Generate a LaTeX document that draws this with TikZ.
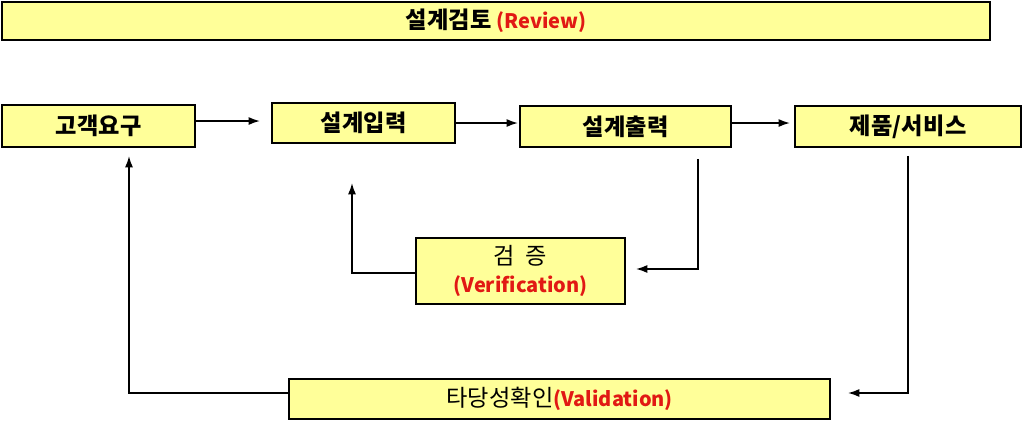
\documentclass[tikz,border=0pt]{standalone}
\usepackage{fontspec}
\setmainfont{Noto Sans CJK KR}
\newfontfamily\krfont[LetterSpace=1,Scale=1.16]{Noto Sans CJK KR}
\usetikzlibrary{arrows.meta, calc, positioning}
\definecolor{boxyellow}{RGB}{255,255,153}
\definecolor{txtred}{RGB}{225,25,20}

\begin{document}
\begin{tikzpicture}[x=0.75pt, y=-0.75pt,
  stepnode/.style={rectangle, draw=black, fill=boxyellow, line width=1.4pt, inner sep=0pt, font=\fontsize{15}{21}\selectfont},
  flow/.style={line width=1.3pt, -{Latex[length=8.5pt, width=6pt]}}]
\useasboundingbox (0,0) rectangle (1024,426);
\node[stepnode, minimum width=741pt, minimum height=28.5pt] at (496,21) (review) {\bfseries{\krfont 설계검토} \textcolor{txtred}{(Review)}};
\node[stepnode, minimum width=144.75pt, minimum height=31.5pt] at (98.5,126) (cust) {\bfseries\krfont 고객요구};
\node[stepnode, minimum width=137.25pt, minimum height=30pt] at (363.5,123) (din) {\bfseries\krfont 설계입력};
\node[stepnode, minimum width=158.25pt, minimum height=30.75pt] at (625.5,126.5) (dout) {\bfseries\krfont 설계출력};
\node[stepnode, minimum width=169.5pt, minimum height=30.75pt] at (908,126.5) (prod) {\bfseries\krfont 제품/서비스};
\node[stepnode, minimum width=156.75pt, minimum height=49.5pt, align=center] at (520.5,271) (verif) {{\krfont 검\ \ 증}\\\textcolor{txtred}{\bfseries(Verification)}};
\node[stepnode, minimum width=405.75pt, minimum height=30pt] at (559.5,399) (valid) {{\krfont 타당성확인}\textcolor{txtred}{\bfseries(Validation)}};

\coordinate (t1) at (260,121);
\draw[flow] (cust.east |- t1) -- (t1);
\coordinate (t2) at (518,123);
\draw[flow] (din.east |- t2) -- (t2);
\coordinate (t3) at (790,123);
\draw[flow] (dout.east |- t3) -- (t3);
\coordinate (c4) at (698,269);
\draw[flow] ([yshift=-8.25pt]dout.south -| c4) -- (c4) -- ([xshift=7.5pt]verif.east |- c4);
\coordinate (c5) at (352,273);
\draw[flow] (verif.west |- c5) -- (c5) -- ([yshift=-29.25pt]din.south -| c5);
\coordinate (c6) at (908,393);
\draw[flow] ([yshift=-6pt]prod.south -| c6) -- (c6) -- ([xshift=12.75pt]valid.east |- c6);
\coordinate (c7) at (129,393);
\draw[flow] (valid.west |- c7) -- (c7) -- ([yshift=-6pt]cust.south -| c7);
\end{tikzpicture}
\end{document}
